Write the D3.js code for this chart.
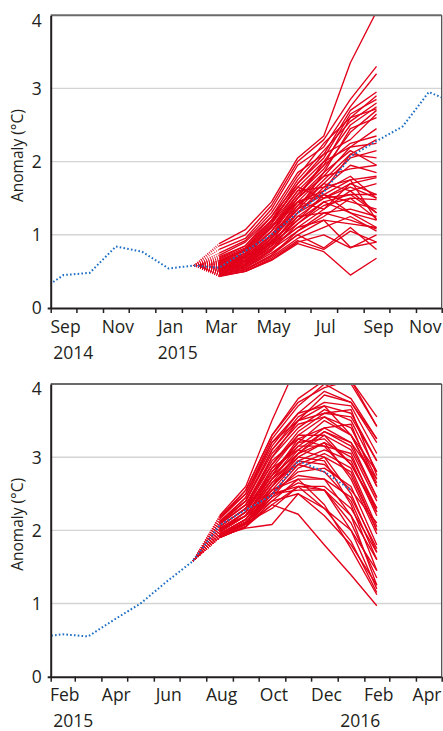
<!DOCTYPE html>
<html><head><meta charset="utf-8">
<script src="https://cdn.jsdelivr.net/npm/d3@7"></script>
<style>
body{margin:0;background:#fff}
svg{display:block}
text{font-family:"Open Sans",sans-serif;fill:#231f20}
</style>
</head><body>
<svg id="c" width="443" height="731"></svg>
<script>
// ---------------- DATA ----------------
// observed monthly anomaly, starting Aug 2014
const obsStart = "2014-08";
const obsValues = [0.21,0.45,0.48,0.84,0.77,0.54,0.58,0.55,0.78,1.0,1.3,1.58,2.07,2.28,2.48,2.95,2.8,2.55];

// forecast 1: initialised Feb 2015, members Mar..Sep 2015
const topInit = "2015-02";
const topMembers = [
 [0.88,1.07,1.45,2.05,2.35,3.35,4.05],
 [0.85,1.00,1.40,2.00,2.30,2.85,3.30],
 [0.80,0.95,1.35,1.95,2.20,2.75,3.20],
 [0.75,0.92,1.30,1.85,2.10,2.70,2.95],
 [0.72,0.90,1.25,1.80,2.25,2.60,2.90],
 [0.70,0.85,1.25,1.70,2.05,2.65,2.85],
 [0.68,0.85,1.20,1.75,2.15,2.55,2.80],
 [0.67,0.82,1.20,1.65,2.00,2.50,2.75],
 [0.65,0.80,1.15,1.60,1.95,2.60,2.72],
 [0.64,0.78,1.10,1.55,1.90,2.40,2.70],
 [0.63,0.80,1.15,1.70,2.10,2.30,2.65],
 [0.62,0.75,1.10,1.50,1.85,2.45,2.60],
 [0.61,0.72,1.05,1.45,1.80,2.20,2.45],
 [0.60,0.75,1.05,1.55,1.95,2.25,2.35],
 [0.60,0.70,1.00,1.40,1.75,2.10,2.30],
 [0.59,0.72,1.05,1.50,2.00,2.20,2.25],
 [0.58,0.70,1.00,1.35,1.70,2.05,2.15],
 [0.57,0.68,0.95,1.45,1.60,2.10,2.05],
 [0.56,0.70,1.00,1.50,1.80,1.90,1.95],
 [0.56,0.65,0.95,1.30,1.65,1.95,1.85],
 [0.55,0.68,0.98,1.35,1.55,1.75,1.80],
 [0.55,0.65,0.90,1.25,1.50,1.70,1.78],
 [0.54,0.62,0.90,1.40,1.70,1.60,1.70],
 [0.53,0.64,0.92,1.20,1.45,1.55,1.55],
 [0.52,0.60,0.85,1.30,1.50,1.65,1.50],
 [0.52,0.62,0.88,1.15,1.40,1.50,1.48],
 [0.51,0.58,0.85,1.20,1.55,1.45,1.35],
 [0.50,0.60,0.82,1.10,1.35,1.60,1.30],
 [0.50,0.58,0.80,1.25,1.30,1.35,1.25],
 [0.49,0.56,0.80,1.05,1.25,1.50,1.22],
 [0.48,0.55,0.78,1.15,1.45,1.30,1.20],
 [0.48,0.55,0.75,1.00,1.20,1.15,1.10],
 [0.47,0.53,0.72,1.05,1.30,1.20,1.08],
 [0.46,0.52,0.70,0.95,1.10,1.25,1.05],
 [0.45,0.50,0.68,0.92,0.80,1.05,0.90],
 [0.44,0.50,0.66,0.90,1.00,0.82,1.00],
 [0.43,0.50,0.65,0.88,0.77,0.45,0.68],
 [0.46,0.52,0.72,1.00,0.82,1.10,0.80],
 [0.50,0.58,0.85,1.10,1.20,0.83,0.90],
 [0.53,0.60,0.88,1.30,1.60,1.80,1.50],
 [0.57,0.66,0.95,1.35,1.85,2.15,1.95],
 [0.60,0.74,1.10,1.60,1.65,1.75,1.20],
 [0.62,0.78,1.12,1.45,1.55,1.30,1.10],
 [0.65,0.80,1.18,1.65,1.50,1.55,1.30],
 [0.54,0.64,0.95,1.45,1.35,1.70,1.55]
];

// forecast 2: initialised Jul 2015, members Aug 2015..Feb 2016
const bottomInit = "2015-07";
const bottomMembers = [
 [2.20,2.60,3.50,4.30,4.60,4.05,3.55],
 [2.15,2.55,3.30,3.80,4.05,4.00,3.42],
 [2.18,2.50,3.25,3.70,4.00,3.80,3.25],
 [2.10,2.45,3.20,3.60,3.90,3.75,3.20],
 [2.12,2.40,3.10,3.55,3.75,3.70,3.05],
 [2.10,2.35,3.00,3.50,3.70,3.60,2.95],
 [2.05,2.30,3.00,3.40,3.65,3.50,2.80],
 [2.08,2.35,2.90,3.35,3.60,3.65,2.75],
 [2.00,2.25,2.85,3.30,3.55,3.40,2.70],
 [2.05,2.30,2.80,3.20,3.50,3.30,2.65],
 [2.02,2.25,2.75,3.25,3.40,3.45,2.60],
 [1.98,2.20,2.70,3.10,3.35,3.20,2.45],
 [2.00,2.20,2.65,3.05,3.30,3.10,2.40],
 [1.95,2.15,2.60,3.00,3.20,3.00,2.30],
 [2.00,2.20,2.70,3.15,3.15,3.05,2.25],
 [1.95,2.10,2.55,2.95,3.10,2.95,2.20],
 [1.92,2.10,2.50,2.90,3.05,2.85,2.05],
 [1.90,2.05,2.45,2.85,3.00,2.80,2.00],
 [1.95,2.15,2.60,3.05,3.20,2.70,1.95],
 [1.93,2.10,2.50,2.80,2.85,2.60,1.80],
 [1.90,2.05,2.40,2.70,2.70,2.45,1.75],
 [1.92,2.08,2.35,2.60,2.60,2.30,1.70],
 [1.90,2.05,2.50,2.55,2.55,2.20,1.60],
 [1.92,2.03,2.08,2.50,2.30,2.00,1.45],
 [1.90,2.10,2.30,2.60,2.55,2.10,1.35],
 [1.95,2.12,2.40,2.50,2.20,1.80,1.25],
 [1.90,2.05,2.35,2.22,1.80,1.39,0.97],
 [1.93,2.10,2.45,2.65,2.55,2.00,1.20],
 [1.95,2.15,2.50,2.60,2.30,1.85,1.15],
 [1.90,2.08,2.55,2.70,2.35,1.75,1.12],
 [2.05,2.30,2.90,3.30,3.30,2.90,2.25],
 [2.10,2.40,3.05,3.45,3.55,3.30,2.60],
 [2.02,2.25,2.80,3.15,3.40,3.20,2.70],
 [2.15,2.50,3.20,3.50,3.85,3.75,3.25],
 [1.98,2.20,2.75,3.20,3.25,2.90,2.30],
 [2.00,2.25,2.85,3.10,3.00,2.50,1.70],
 [1.95,2.15,2.65,2.90,2.80,2.40,1.60],
 [2.08,2.35,2.95,3.25,3.15,2.75,2.00],
 [2.12,2.45,3.15,3.60,3.70,3.30,2.80],
 [1.92,2.10,2.60,2.95,2.90,2.55,2.10],
 [2.05,2.30,2.75,3.05,3.35,3.15,2.45],
 [1.97,2.20,2.70,3.00,2.95,2.35,1.45],
 [2.03,2.20,2.55,2.75,2.70,2.20,1.25],
 [2.18,2.55,3.30,3.75,3.95,4.05,3.42],
 [2.10,2.40,3.10,3.50,3.60,3.55,2.95]
];

const yTicks = [0,1,2,3,4];
const yGrid = [1,2,3];
const topMonthLabels = ["Sep","Nov","Jan","Mar","May","Jul","Sep","Nov"];
const topYearLabels = ["2014","2015"];
const bottomMonthLabels = ["Feb","Apr","Jun","Aug","Oct","Dec","Feb","Apr"];
const bottomYearLabels = ["2015","2016"];
const yTitle = "Anomaly (°C)";

// ---------------- DRAW ----------------
const parseM = d3.timeParse("%Y-%m");
const mid = d => { const s = d3.timeMonth.floor(d), e = d3.timeMonth.offset(s,1); return new Date((+s + +e)/2); };
const obs = obsValues.map((v,i)=>({date: mid(d3.timeMonth.offset(parseM(obsStart), i)), v}));
const obsAt = m => obs.find(o => +d3.timeMonth.floor(o.date) === +parseM(m)).v;

const RED = "#e2001a", BLUE = "#1f6fc5", INK = "#231f20";
const svg = d3.select("#c");

const panels = [
  {id:"p1", top:15.2, bottom:308, left:50.7, right:441.7,
   domain:["2014-09","2015-12"], init:topInit, members:topMembers,
   months:topMonthLabels, years:topYearLabels, yearAnchor:["2014-09","2015-01"]},
  {id:"p2", top:384, bottom:676.7, left:50.7, right:441.7,
   domain:["2015-02","2016-05"], init:bottomInit, members:bottomMembers,
   months:bottomMonthLabels, years:bottomYearLabels, yearAnchor:["2015-02","2016-01"]}
];

panels.forEach(p => {
  const x = d3.scaleTime().domain(p.domain.map(parseM)).range([p.left, p.right]);
  const y = d3.scaleLinear().domain([0,4]).range([p.bottom, p.top]);
  const g = svg.append("g");

  g.append("clipPath").attr("id","clip-"+p.id).append("rect")
    .attr("x",p.left).attr("y",p.top).attr("width",p.right-p.left).attr("height",p.bottom-p.top);

  // gridlines
  g.selectAll(".grid").data(yGrid).join("line")
    .attr("x1",p.left).attr("x2",p.right).attr("y1",d=>y(d)).attr("y2",d=>y(d))
    .attr("stroke","#d4d4d4").attr("stroke-width",1.4);

  const plot = g.append("g").attr("clip-path","url(#clip-"+p.id+")");
  const initDate = mid(parseM(p.init));
  const initVal = obsAt(p.init);
  const memberDates = p.members[0].map((_,i)=>mid(d3.timeMonth.offset(parseM(p.init), i+1)));
  const line = d3.line().x(d=>x(d.date)).y(d=>y(d.v));

  // dotted fan from initial condition
  plot.selectAll(".fan").data(p.members).join("path")
    .attr("d", m => line([{date:initDate,v:initVal},{date:memberDates[0],v:m[0]}]))
    .attr("fill","none").attr("stroke",RED).attr("stroke-width",1.1)
    .attr("stroke-dasharray","1,1.2");
  // member trajectories
  plot.selectAll(".mem").data(p.members).join("path")
    .attr("d", m => line(m.map((v,i)=>({date:memberDates[i], v}))))
    .attr("fill","none").attr("stroke",RED).attr("stroke-width",1.35)
    .attr("stroke-linejoin","round");
  // observations
  plot.append("path").attr("d", line(obs))
    .attr("fill","none").attr("stroke",BLUE).attr("stroke-width",2)
    .attr("stroke-dasharray","1.6,2.2");

  // frame: top and right
  g.append("line").attr("x1",p.left).attr("x2",p.right).attr("y1",p.top).attr("y2",p.top)
    .attr("stroke","#6a6a6a").attr("stroke-width",2);
  g.append("line").attr("x1",p.right).attr("x2",p.right).attr("y1",p.top).attr("y2",p.bottom)
    .attr("stroke","#444").attr("stroke-width",1.2);

  // x axis
  const xa = g.append("g").attr("transform",`translate(0,${p.bottom})`)
    .call(d3.axisBottom(x).ticks(d3.timeMonth.every(1)).tickFormat("").tickSize(5).tickSizeOuter(0));
  xa.select(".domain").attr("stroke",INK).attr("stroke-width",2)
    .attr("d",`M${p.left-3},0.5H${p.right}`);
  xa.selectAll(".tick line").attr("stroke",INK).attr("stroke-width",1.5);

  // month labels every other month, centred mid-month (kept inside the page)
  g.selectAll(".ml").data(p.months).join("text")
    .attr("x",(d,i)=>x(mid(d3.timeMonth.offset(parseM(p.domain[0]), 2*i)))+2)
    .attr("y",p.bottom+24.5).attr("text-anchor","middle").attr("font-size",17.5).text(d=>d)
    .each(function(){
      const w = this.getComputedTextLength(), cx = +this.getAttribute("x");
      if (cx + w/2 > 441.5) this.setAttribute("x", 441.5 - w/2);
    });
  g.selectAll(".yl").data(p.years).join("text")
    .attr("x",(d,i)=>x(parseM(p.yearAnchor[i]))+2.5)
    .attr("y",p.bottom+50.5).attr("text-anchor","start").attr("font-size",17.5).text(d=>d);

  // y axis
  const ya = g.append("g").attr("transform",`translate(${p.left},0)`)
    .call(d3.axisLeft(y).tickValues(yTicks).tickSize(0).tickPadding(9).tickFormat(d3.format("d")));
  ya.select(".domain").attr("stroke",INK).attr("stroke-width",2);
  ya.selectAll(".tick text").attr("font-size",17.5).attr("font-family","'Open Sans',sans-serif").attr("fill",INK)
    .attr("dy", d => d===4 ? "0.62em" : "0.34em");

  const t = g.append("text").attr("transform",`translate(23,${(p.top+p.bottom)/2 - 6}) rotate(-90)`)
    .attr("text-anchor","middle").attr("font-size",15).text(yTitle);
  const len = t.node().getComputedTextLength();
  t.attr("font-size", 15 * 93 / len);
});
</script>
</body></html>
